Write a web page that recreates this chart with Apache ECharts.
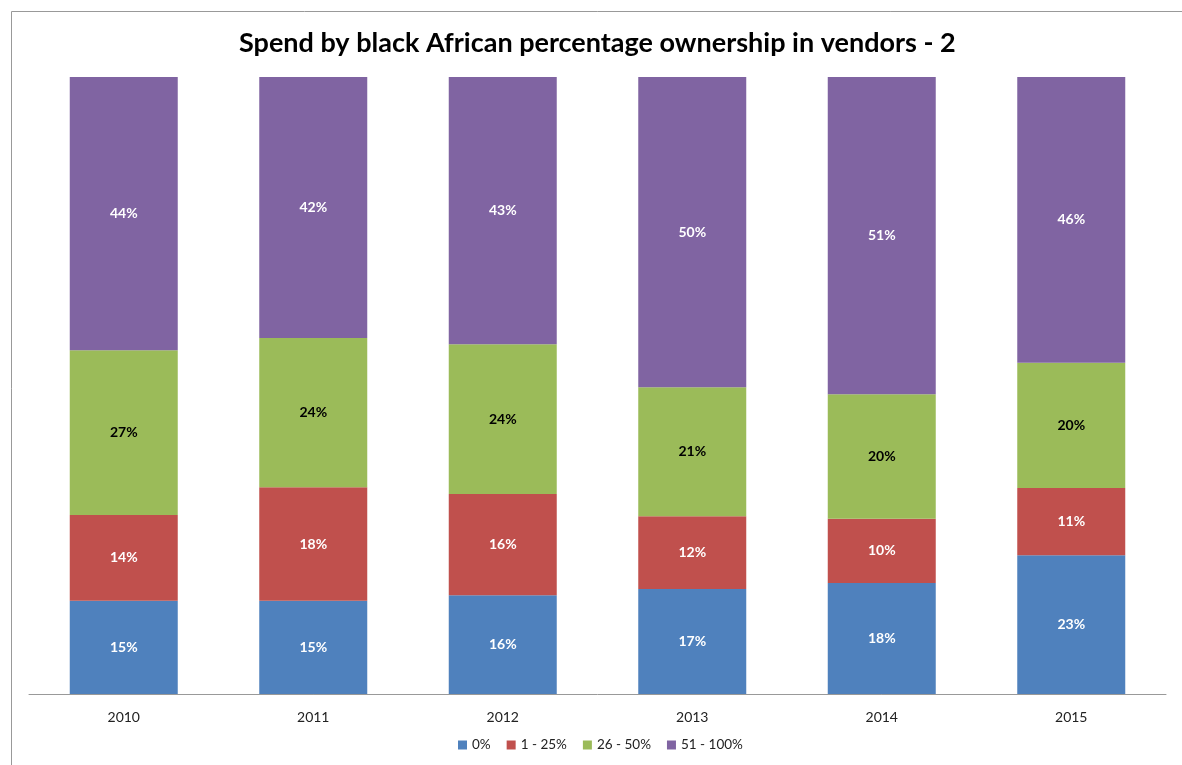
<!DOCTYPE html>
<html><head><meta charset="utf-8">
<script src="https://cdn.jsdelivr.net/npm/echarts@6/dist/echarts.min.js"></script>
<style>html,body{margin:0;padding:0;background:#fff}#c{width:1182px;height:765px}</style>
</head><body><div id="c"></div>
<script>
const categories = ['2010','2011','2012','2013','2014','2015'];
const seriesNames = ['0%','1 - 25%','26 - 50%','51 - 100%'];
const s0 = [15.1, 15.1, 16.0, 17.0, 18.0, 22.5];
const s1 = [13.9, 18.4, 16.4, 11.8, 10.4, 10.9];
const s2 = [26.7, 24.2, 24.3, 20.9, 20.2, 20.3];
const s3 = [44.3, 42.3, 43.3, 50.3, 51.4, 46.3];
const colors = ['#4F81BD','#C0504D','#9BBB59','#8064A2'];
const labelColors = ['#fff','#fff','#000','#fff'];
const allData = [s0, s1, s2, s3];

const chart = echarts.init(document.getElementById('c'));
chart.setOption({
  animation:false,
  title:{text:'Spend by black African percentage ownership in vendors - 2',left:234,top:25,
    textStyle:{fontFamily:'Lato',fontWeight:'bold',fontSize:27,color:'#000'}},
  graphic:[{type:'rect',shape:{x:11.5,y:11.5,width:1180,height:770},style:{fill:'none',stroke:'#999',lineWidth:1},silent:true}],
  legend:{bottom:8,left:453,itemWidth:9,itemHeight:9,itemGap:16,icon:'rect',
    textStyle:{fontFamily:'Lato',fontSize:13.5,color:'#222'}},
  grid:{left:29,right:16,top:77,bottom:71},
  xAxis:{type:'category',data:categories,axisTick:{show:false},
    axisLine:{lineStyle:{color:'#999'}},
    axisLabel:{fontFamily:'Lato',fontSize:14,color:'#222',margin:16}},
  yAxis:{type:'value',min:0,max:100,show:false,splitLine:{show:false}},
  series: seriesNames.map((n,i)=>({
    name:n,type:'bar',stack:'t',barWidth:108,data:allData[i],
    itemStyle:{color:colors[i]},
    label:{show:true,position:'inside',formatter:p=>Math.round(p.value)+'%',
      fontFamily:'Lato',fontWeight:'bold',fontSize:14,color:labelColors[i]}
  }))
});
</script></body></html>
